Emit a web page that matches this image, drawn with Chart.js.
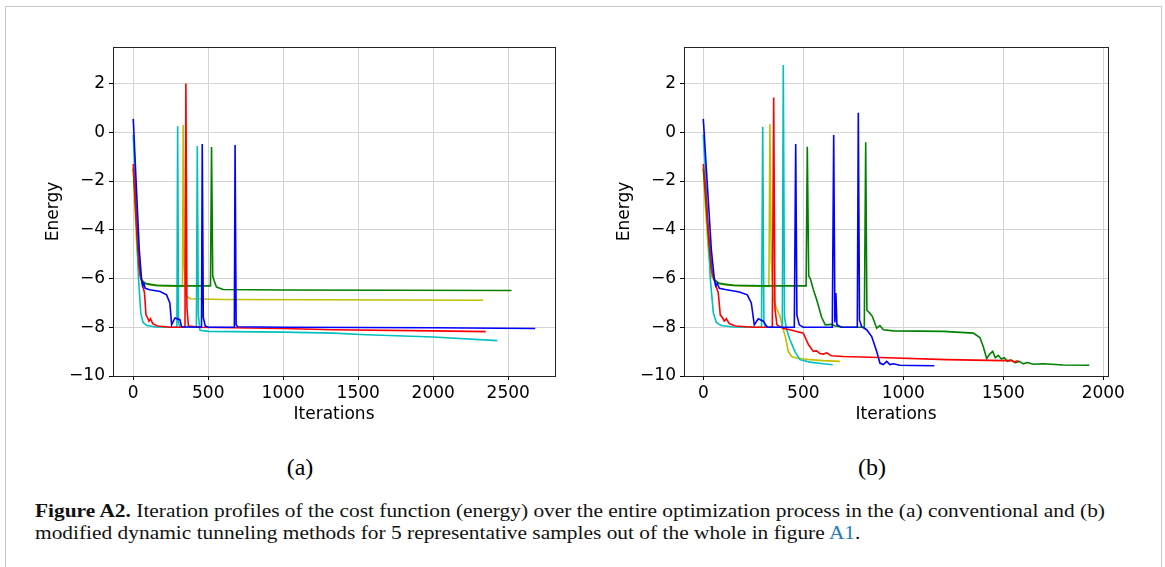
<!DOCTYPE html>
<html>
<head>
<meta charset="utf-8">
<script src="https://cdn.jsdelivr.net/npm/chart.js@4.4.0/dist/chart.umd.min.js"></script>
<style>
  html, body { margin: 0; padding: 0; background: #fff; }
  body { width: 1165px; height: 567px; position: relative; overflow: hidden; }
  #frame { position: absolute; left: 5px; top: 6px; width: 1155px; height: 600px; border: 1.5px solid #c8c8c8; }
  canvas { position: absolute; top: 0; }
  #chartA { left: 0; }
  #chartB { left: 580px; }
  .sub { position: absolute; top: 454px; width: 60px; margin-left: -30px; text-align: center; font: 24px "Liberation Serif", serif; color: #000; }
  #caption { position: absolute; left: 35px; top: 500px; font: 18.5px/22px "Liberation Serif", serif; color: #111; white-space: nowrap; transform-origin: 0 0; }
  #caption b { font-weight: bold; }
  #caption .ref { color: #2a7ab8; }
</style>
</head>
<body>
<div id="frame"></div>
<canvas id="chartA" width="580" height="440"></canvas>
<canvas id="chartB" width="585" height="440"></canvas>
<div class="sub" style="left:300px">(a)</div>
<div class="sub" style="left:872px">(b)</div>
<div id="caption">
  <div id="cap1"><b>Figure A2.</b> Iteration profiles of the cost function (energy) over the entire optimization process in the (a) conventional and (b)</div>
  <div id="cap2">modified dynamic tunneling methods for 5 representative samples out of the whole in figure <span class="ref">A1</span>.</div>
</div>
<script>
// tick labels
const xTicksA = [0, 500, 1000, 1500, 2000, 2500];
const xTicksB = [0, 500, 1000, 1500, 2000];
const yTicks = [-10, -8, -6, -4, -2, 0, 2];

// (a) conventional dynamic tunneling
const itersBlueA  = [0, 10, 25, 40, 55, 62, 70, 80, 110, 180, 222, 244, 256, 278, 311, 322, 455, 460, 467, 480, 500, 674, 679, 686, 695, 1000, 2000, 2680];
const energyBlueA = [0.55, -0.8, -2.8, -4.8, -6.0, -6.3, -6.2, -6.4, -6.46, -6.53, -6.67, -7.0, -7.9, -7.62, -7.69, -7.98, -8.0, -0.48, -7.6, -7.95, -8.0, -8.0, -0.52, -7.9, -7.98, -8.0, -8.02, -8.05];

const itersRedA  = [0, 10, 25, 45, 60, 75, 85, 95, 105, 115, 130, 160, 250, 345, 351, 358, 368, 450, 1000, 1330, 2000, 2350];
const energyRedA = [-1.3, -2.2, -4.0, -5.8, -6.2, -6.6, -7.5, -7.6, -7.75, -7.65, -7.85, -7.95, -8.0, -8.0, 2.0, -7.2, -7.95, -8.0, -8.05, -8.1, -8.15, -8.18];

const itersGreenA  = [0, 10, 25, 40, 55, 80, 150, 300, 515, 522, 530, 540, 555, 600, 1000, 2522];
const energyGreenA = [-1.5, -2.5, -4.2, -5.6, -6.05, -6.2, -6.28, -6.3, -6.3, -0.6, -5.9, -6.1, -6.35, -6.45, -6.47, -6.49];

const itersCyanA  = [0, 10, 20, 35, 50, 65, 90, 150, 291, 296, 302, 310, 421, 427, 434, 445, 500, 1000, 1333, 1556, 2000, 2427];
const energyCyanA = [-0.1, -1.5, -3.5, -6.0, -7.4, -7.8, -7.93, -7.99, -8.0, 0.25, -7.8, -8.0, -8.0, -0.56, -7.5, -8.12, -8.17, -8.2, -8.24, -8.31, -8.4, -8.55];

const itersYellowA  = [0, 10, 25, 40, 60, 100, 200, 328, 333, 340, 350, 380, 600, 2333];
const energyYellowA = [-1.45, -3.0, -4.8, -5.9, -6.15, -6.25, -6.3, -6.32, 0.3, -5.5, -6.7, -6.83, -6.86, -6.89];

// (b) modified dynamic tunneling
const itersBlueB  = [0, 10, 25, 40, 55, 62, 70, 80, 110, 180, 220, 240, 255, 275, 300, 320, 455, 462, 468, 480, 500, 645, 652, 658, 663, 668, 690, 770, 775, 781, 792, 817, 842, 867, 883, 900, 917, 933, 950, 983, 1050, 1155];
const energyBlueB = [0.55, -0.8, -2.8, -4.8, -6.0, -6.3, -6.2, -6.4, -6.45, -6.55, -6.67, -7.0, -7.9, -7.65, -7.75, -8.0, -8.0, -0.48, -7.5, -7.9, -8.0, -8.0, -0.11, -7.8, -6.6, -7.9, -8.0, -8.0, 0.8, -7.7, -7.98, -8.1, -8.38, -8.99, -9.47, -9.53, -9.4, -9.53, -9.5, -9.56, -9.57, -9.58];

const itersRedB  = [0, 10, 25, 45, 60, 75, 85, 95, 105, 115, 130, 160, 250, 345, 352, 358, 368, 400, 433, 500, 525, 550, 567, 583, 600, 617, 640, 700, 883, 1217, 1500, 1540, 1555, 1575];
const energyRedB = [-1.3, -2.2, -4.0, -5.8, -6.2, -6.6, -7.5, -7.6, -7.75, -7.65, -7.85, -7.95, -8.0, -8.0, 1.43, -7.2, -7.9, -8.05, -8.1, -8.24, -8.7, -8.99, -8.97, -9.08, -9.1, -9.05, -9.17, -9.2, -9.24, -9.33, -9.37, -9.36, -9.42, -9.38];

const itersGreenB  = [0, 10, 25, 40, 55, 80, 150, 300, 514, 520, 527, 535, 550, 567, 592, 610, 640, 660, 700, 805, 812, 818, 830, 845, 867, 883, 900, 950, 1200, 1350, 1383, 1400, 1417, 1432, 1447, 1460, 1475, 1490, 1505, 1520, 1540, 1560, 1580, 1600, 1620, 1650, 1700, 1800, 1930];
const energyGreenB = [-1.5, -2.5, -4.2, -5.6, -6.05, -6.2, -6.28, -6.3, -6.3, -0.59, -5.9, -6.0, -6.45, -6.87, -7.6, -7.9, -7.88, -7.95, -8.0, -8.0, -0.41, -7.3, -7.4, -7.55, -8.04, -7.93, -8.1, -8.15, -8.17, -8.24, -8.42, -8.8, -9.29, -9.1, -8.99, -9.25, -9.15, -9.3, -9.25, -9.4, -9.35, -9.45, -9.4, -9.5, -9.45, -9.52, -9.5, -9.55, -9.56];

const itersCyanB  = [0, 10, 20, 35, 50, 65, 90, 150, 291, 297, 303, 310, 395, 400, 406, 417, 433, 458, 483, 533, 600, 647];
const energyCyanB = [-0.1, -1.5, -3.5, -6.0, -7.4, -7.8, -7.93, -7.99, -8.0, 0.23, -7.8, -8.0, -8.0, 2.76, -7.6, -8.1, -8.5, -9.0, -9.33, -9.43, -9.5, -9.54];

const itersYellowB  = [0, 10, 25, 40, 60, 100, 200, 328, 333, 340, 350, 365, 383, 400, 410, 425, 442, 467, 533, 600, 683];
const energyYellowB = [-1.45, -3.0, -4.8, -5.9, -6.15, -6.25, -6.3, -6.32, 0.33, -5.3, -6.85, -7.2, -7.55, -8.1, -8.38, -8.99, -9.2, -9.26, -9.33, -9.37, -9.4];

const colors = { blue: '#0000ff', red: '#ff0000', green: '#008000', cyan: '#00bfbf', yellow: '#bfbf00' };

function toPoints(xs, ys) {
  return xs.map((v, i) => ({ x: v, y: ys[i] }));
}

function minusLabel(v) {
  return v < 0 ? '\u2212' + Math.abs(v) : String(v);
}

// matplotlib-style box around the plot area
const frameBox = {
  id: 'frameBox',
  afterDraw(chart) {
    const { ctx, chartArea: a } = chart;
    ctx.save();
    ctx.strokeStyle = '#222';
    ctx.lineWidth = 1;
    ctx.strokeRect(Math.round(a.left) + 0.5, Math.round(a.top) + 0.5, Math.round(a.right - a.left), Math.round(a.bottom - a.top));
    ctx.restore();
  }
};

const tickFont = { family: '"DejaVu Sans", sans-serif', size: 17 };

function makeChart(id, series, xMin, xMax, xTicks, padLeft, padRight) {
  return new Chart(document.getElementById(id), {
    type: 'line',
    data: {
      datasets: series.map(s => ({
        data: toPoints(s.x, s.y),
        borderColor: s.color,
        borderWidth: 1.6,
        pointRadius: 0,
        tension: 0,
        fill: false
      }))
    },
    options: {
      responsive: false,
      animation: false,
      parsing: false,
      layout: { padding: { left: padLeft, right: padRight, top: 47, bottom: 11 } },
      plugins: { legend: { display: false }, tooltip: { enabled: false } },
      scales: {
        x: {
          type: 'linear',
          min: xMin,
          max: xMax,
          afterBuildTicks: ax => { ax.ticks = xTicks.map(v => ({ value: v })); },
          afterFit: s => { s.height = 53; },
          ticks: { autoSkip: false, maxRotation: 0, color: '#000', font: tickFont, padding: 3, callback: minusLabel },
          grid: { color: '#d4d4d4', lineWidth: 1, tickColor: '#000', tickLength: 4 },
          border: { display: true, color: '#222', width: 1 },
          title: { display: true, text: 'Iterations', color: '#000', font: tickFont }
        },
        y: {
          type: 'linear',
          min: -10,
          max: 3.5,
          afterBuildTicks: ax => { ax.ticks = yTicks.map(v => ({ value: v })); },
          afterFit: s => { s.width = 74; },
          ticks: { autoSkip: false, color: '#000', font: tickFont, padding: 4, callback: minusLabel },
          grid: { color: '#d4d4d4', lineWidth: 1, tickColor: '#000', tickLength: 4 },
          border: { display: true, color: '#222', width: 1 },
          title: { display: true, text: 'Energy', color: '#000', font: tickFont }
        }
      }
    },
    plugins: [frameBox]
  });
}

makeChart('chartA', [
  { x: itersBlueA, y: energyBlueA, color: colors.blue },
  { x: itersRedA, y: energyRedA, color: colors.red },
  { x: itersGreenA, y: energyGreenA, color: colors.green },
  { x: itersCyanA, y: energyCyanA, color: colors.cyan },
  { x: itersYellowA, y: energyYellowA, color: colors.yellow }
], -135, 2812, xTicksA, 39, 25);

makeChart('chartB', [
  { x: itersBlueB, y: energyBlueB, color: colors.blue },
  { x: itersRedB, y: energyRedB, color: colors.red },
  { x: itersGreenB, y: energyGreenB, color: colors.green },
  { x: itersCyanB, y: energyCyanB, color: colors.cyan },
  { x: itersYellowB, y: energyYellowB, color: colors.yellow }
], -96.5, 2023.5, xTicksB, 30, 57);

// stretch caption to the measured line width of the original
const cap = document.getElementById('caption');
const w1 = document.getElementById('cap1').getBoundingClientRect().width;
cap.style.transform = 'scaleX(' + (1070 / w1) + ')';
</script>
</body>
</html>
